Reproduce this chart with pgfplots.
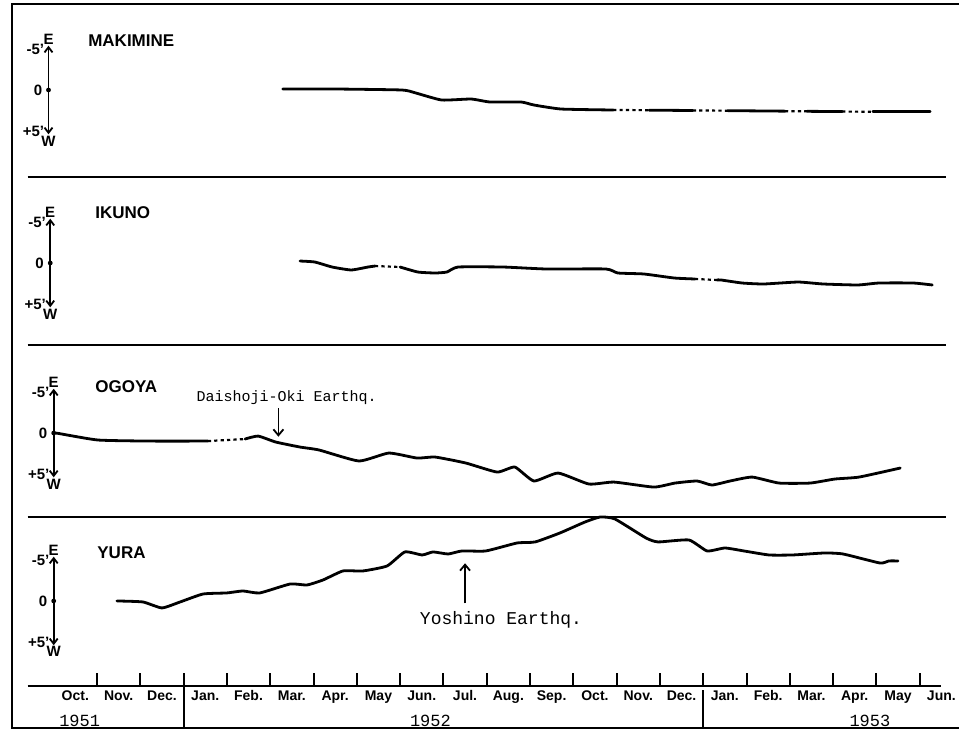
\documentclass[border=0pt]{standalone}
\usepackage{fontspec}
\setmainfont{Liberation Sans}
\setmonofont{Liberation Mono}
\usepackage{pgfplots}
\pgfplotsset{compat=1.18}
\usetikzlibrary{arrows.meta}

\pgfplotsset{
 panel/.style={
  x=21.65pt, y=4.1pt, y dir=reverse,
  xmin=-0.6, xmax=20.6,
  axis x line=bottom, hide y axis,
  xtick=\empty, ytick=\empty,
  axis line style={-, line width=1pt, black},
  clip=false, anchor=south west,
 },
 trace/.style={black, line width=1.4pt, line join=round, line cap=round, mark=none, smooth, tension=0.3},
 gap/.style={black, line width=1.1pt, mark=none, dash pattern=on 1.6pt off 1.6pt},
}
\newcommand{\lab}{\fontsize{7.5}{8}\selectfont\bfseries}
\newcommand{\scalebar}[1]{%
 \draw[{Straight Barb[length=2.6pt,width=4pt]}-{Straight Barb[length=2.6pt,width=4pt]}, line width=0.9pt] (axis cs:#1,-5.4) -- (axis cs:#1,5.4);
 \fill (axis cs:#1,0) circle[radius=1.2pt];
 \node[anchor=east, font=\lab, inner sep=0pt, xshift=-2pt] at (axis cs:#1,-4.9) {-5'};
 \node[anchor=east, font=\lab, inner sep=0pt, xshift=-3pt] at (axis cs:#1,0) {0};
 \node[anchor=east, font=\lab, inner sep=0pt, xshift=-2pt] at (axis cs:#1,5.0) {+5'};
 \node[anchor=south, font=\lab, inner sep=0.5pt] at (axis cs:#1,-5.4) {E};
 \node[anchor=north, font=\lab, inner sep=0.5pt] at (axis cs:#1,5.4) {W};
}
\newcommand{\station}{\fontsize{8.5}{9}\selectfont\bfseries}

\begin{document}
\begin{tikzpicture}
\path[use as bounding box] (0,0) rectangle (479.5pt,365pt);

% ---------- MAKIMINE ----------
\begin{axis}[panel, at={(13.86pt,276.5pt)}, ymin=-10.37, ymax=10.61]
\addplot[trace] coordinates {(5.29,-0.12)(6.52,-0.12)(8.04,0.0)(8.34,0.33)(8.96,1.22)(9.64,1.10)(10.07,1.46)(10.79,1.46)(11.09,1.83)(11.72,2.32)(12.92,2.44)};
\addplot[gap] coordinates {(12.92,2.44)(13.75,2.46)};
\addplot[trace] coordinates {(13.75,2.46)(14.76,2.50)};
\addplot[gap] coordinates {(14.76,2.50)(15.57,2.52)};
\addplot[trace] coordinates {(15.57,2.52)(16.89,2.58)};
\addplot[gap] coordinates {(16.89,2.58)(17.40,2.60)};
\addplot[trace] coordinates {(17.40,2.60)(18.21,2.63)};
\addplot[gap] coordinates {(18.21,2.63)(18.92,2.65)};
\addplot[trace] coordinates {(18.92,2.65)(20.24,2.65)};
\scalebar{-0.12}
\node[anchor=west, font=\station, inner sep=0pt] at (axis cs:0.79,-6.0) {MAKIMINE};
\end{axis}

% ---------- IKUNO ----------
\begin{axis}[panel, at={(13.86pt,192.5pt)}, ymin=-10.49, ymax=10.0]
\addplot[trace] coordinates {(5.69,-0.24)(6.03,-0.12)(6.43,0.49)(6.87,0.85)(7.26,0.49)(7.42,0.37)};
\addplot[gap] coordinates {(7.42,0.37)(8.00,0.49)};
\addplot[trace] coordinates {(8.00,0.49)(8.41,1.10)(8.81,1.22)(9.08,1.10)(9.34,0.49)(10.38,0.49)(11.37,0.73)(12.75,0.73)(13.03,1.22)(13.63,1.34)(14.33,1.83)(14.81,1.95)};
\addplot[gap] coordinates {(14.81,1.95)(15.32,2.07)};
\addplot[trace] coordinates {(15.32,2.07)(15.41,2.07)(15.90,2.44)(16.40,2.56)(17.19,2.32)(17.77,2.56)(18.57,2.68)(19.06,2.44)(19.85,2.44)(20.29,2.68)};
\scalebar{-0.08}
\node[anchor=west, font=\station, inner sep=0pt] at (axis cs:0.955,-6.1) {IKUNO};
\end{axis}

% ---------- OGOYA ----------
\begin{axis}[panel, at={(13.86pt,106.5pt)}, ymin=-10.73, ymax=10.24]
\addplot[trace] coordinates {(0.0,0.0)(0.10,0.04)(1.02,0.85)(2.22,0.98)(3.56,0.98)};
\addplot[gap] coordinates {(3.56,0.98)(4.42,0.73)};
\addplot[trace] coordinates {(4.42,0.73)(4.72,0.37)(5.13,1.10)(5.69,1.71)(6.13,2.07)(7.05,3.41)(7.74,2.44)(8.39,3.05)(8.81,2.93)(9.52,3.66)(10.24,4.76)(10.65,4.15)(11.09,5.85)(11.65,4.88)(12.36,6.22)(12.94,5.98)(13.86,6.59)(14.35,6.10)(14.86,5.85)(15.20,6.34)(15.62,5.85)(16.13,5.37)(16.75,6.10)(17.47,6.10)(18.04,5.61)(18.60,5.37)(19.55,4.27)};
\scalebar{0}
\node[anchor=west, font=\station, inner sep=0pt] at (axis cs:0.955,-5.6) {OGOYA};
\node[font=\ttfamily\fontsize{7.5}{8}\selectfont, inner sep=0pt] at (axis cs:5.38,-4.3) {Daishoji-Oki Earthq.};
\draw[-{Straight Barb[length=3pt,width=5pt]}, line width=0.9pt] (axis cs:5.19,-3.0) -- (axis cs:5.19,0.45);
\end{axis}

% ---------- YURA ----------
\begin{axis}[panel, at={(13.86pt,22pt)}, ymin=-10.24, ymax=10.37, xmax=20.5,
  xtick={0.5,1.5,...,20.5},
  xticklabels={Oct.,Nov.,Dec.,Jan.,Feb.,Mar.,Apr.,May,Jun.,Jul.,Aug.,Sep.,Oct.,Nov.,Dec.,Jan.,Feb.,Mar.,Apr.,May,Jun.},
  minor xtick={1,2,...,20},
  major tick length=0pt, minor tick length=6.5pt, tick align=inside,
  tick style={line width=1pt, black},
  xticklabel style={font=\fontsize{7}{7.5}\selectfont\bfseries, inner sep=2pt},
]
\addplot[trace] coordinates {(1.46,0)(2.06,0.12)(2.50,0.85)(2.92,0.12)(3.45,-0.85)(4.00,-0.98)(4.37,-1.22)(4.76,-0.98)(5.46,-2.07)(5.85,-1.95)(6.22,-2.56)(6.68,-3.66)(7.14,-3.66)(7.70,-4.27)(8.11,-5.98)(8.51,-5.61)(8.76,-5.98)(9.11,-5.73)(9.43,-6.10)(9.98,-6.10)(10.70,-7.07)(11.12,-7.20)(11.69,-8.29)(12.27,-9.63)(12.62,-10.24)(12.96,-10.00)(13.68,-7.68)(13.96,-7.20)(14.67,-7.44)(15.09,-6.10)(15.50,-6.46)(15.94,-6.10)(16.52,-5.61)(17.07,-5.61)(17.79,-5.85)(18.23,-5.73)(19.08,-4.63)(19.29,-4.88)(19.50,-4.88)};
\scalebar{0}
\node[anchor=west, font=\station, inner sep=0pt] at (axis cs:1.0,-5.85) {YURA};
\node[font=\ttfamily\fontsize{9}{10}\selectfont, inner sep=0pt] at (axis cs:10.33,2.3) {Yoshino Earthq.};
\draw[-{Straight Barb[length=3pt,width=5pt]}, line width=0.9pt] (axis cs:9.5,0.3) -- (axis cs:9.5,-4.6);
% year row
\draw[line width=1pt] (axis cs:3,10.37) -- (axis cs:3,15.5);
\draw[line width=1pt] (axis cs:15,10.9) -- (axis cs:15,15.5);
\node[font=\ttfamily\fontsize{8.5}{9}\selectfont, inner sep=0pt] at (axis cs:0.6,14.6) {1951};
\node[font=\ttfamily\fontsize{8.5}{9}\selectfont, inner sep=0pt] at (axis cs:8.7,14.6) {1952};
\node[font=\ttfamily\fontsize{8.5}{9}\selectfont, inner sep=0pt] at (axis cs:18.85,14.6) {1953};
\end{axis}

% frame
\draw[line width=1pt] (479.5pt,363pt) -- (6pt,363pt) -- (6pt,1pt) -- (479.5pt,1pt);
\end{tikzpicture}
\end{document}
